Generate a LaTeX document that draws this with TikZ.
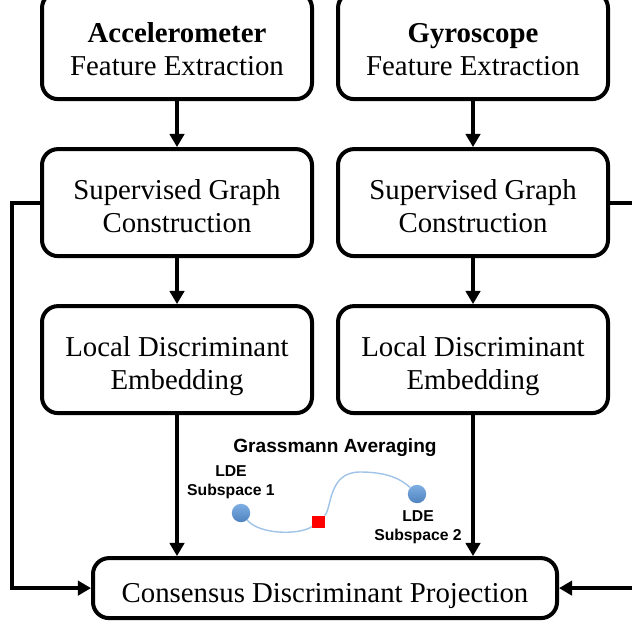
\documentclass[tikz,border=0pt]{standalone}
\usepackage{fontspec}
\setmainfont{Liberation Serif}
\setsansfont{Liberation Sans}
\usepackage{xcolor}
\usetikzlibrary{arrows.meta, positioning, calc}
\definecolor{subblue}{RGB}{79,129,189}
\definecolor{sublight}{RGB}{125,175,228}
\definecolor{curveblue}{RGB}{160,195,232}

\begin{document}
\begin{tikzpicture}[
    block/.style={draw, rectangle, rounded corners=0.4cm, line width=0.1cm,
        minimum width=6.75cm, minimum height=2.675cm, align=center,
        text height=1.65cm, text depth=0.16cm,
        font=\fontsize{20.5}{23.5}\selectfont},
    wide/.style={block, minimum width=11.6cm, minimum height=1.5cm,
        text height=0.82cm, text depth=0.1cm},
    flow/.style={line width=0.1cm, -{Triangle[length=0.33cm, width=0.36cm]}},
    subdot/.style={circle, minimum size=0.46cm, inner sep=0pt, top color=sublight, bottom color=subblue},
    avgmark/.style={rectangle, fill=red, minimum size=0.31cm, inner sep=0pt},
    lbl/.style={font=\sffamily\bfseries\fontsize{11.2}{13.5}\selectfont, align=center},
    node distance=1.15cm
]
    \clip (0,0) rectangle (15.8,-15.8);

    % Accelerometer branch
    \node[block] (accfe) at (4.425,-1.14) {\textbf{Accelerometer}\\Feature Extraction};
    \node[block, below=of accfe] (accsgc) {Supervised Graph\\Construction};
    \node[block, below=of accsgc] (acclde) {Local Discriminant\\Embedding};

    % Gyroscope branch
    \node[block, right=0.55cm of accfe] (gyrfe) {\textbf{Gyroscope}\\Feature Extraction};
    \node[block, below=of gyrfe] (gyrsgc) {Supervised Graph\\Construction};
    \node[block, below=of gyrsgc] (gyrlde) {Local Discriminant\\Embedding};

    % Consensus
    \coordinate (mid) at ($(acclde.south)!0.5!(gyrlde.south)$);
    \node[wide, below=3.525cm of mid] (cdp) {Consensus Discriminant Projection};

    % Connections
    \draw[flow] (accfe) -- (accsgc);
    \draw[flow] (accsgc) -- (acclde);
    \draw[flow] (acclde.south) -- (acclde.south |- cdp.north);
    \draw[flow] (gyrfe) -- (gyrsgc);
    \draw[flow] (gyrsgc) -- (gyrlde);
    \draw[flow] (gyrlde.south) -- (gyrlde.south |- cdp.north);

    % Feedback
    \draw[flow] (accsgc.west) -- ++(-0.7cm,0) |- (cdp.west);
    \draw[flow] (gyrsgc.east) -- ++(0.8cm,0) |- (cdp.east);

    % Grassmann averaging
    \node[font=\sffamily\bfseries\fontsize{13.6}{16}\selectfont] (gtitle) at (8.375,-11.2) {Grassmann Averaging};
    \node[subdot] (sub1) at (6.025,-12.825) {};
    \node[avgmark] (avg) at (7.96,-13.05) {};
    \node[subdot] (sub2) at (10.425,-12.35) {};
    \node[lbl] (sub1lbl) at (5.775,-12.05) {LDE\\Subspace 1};
    \node[lbl] (sub2lbl) at (10.45,-13.175) {LDE\\Subspace 2};
    \draw[curveblue, line width=1pt] (sub1) .. controls (6.5,-13.375) and (7.5,-13.375) .. (avg);
    \draw[curveblue, line width=1pt] (avg) .. controls (8.3,-12.7) and (8.2,-11.8) .. (9.0,-11.8)
        .. controls (9.625,-11.8) and (10.0,-11.95) .. (sub2);
\end{tikzpicture}
\end{document}
